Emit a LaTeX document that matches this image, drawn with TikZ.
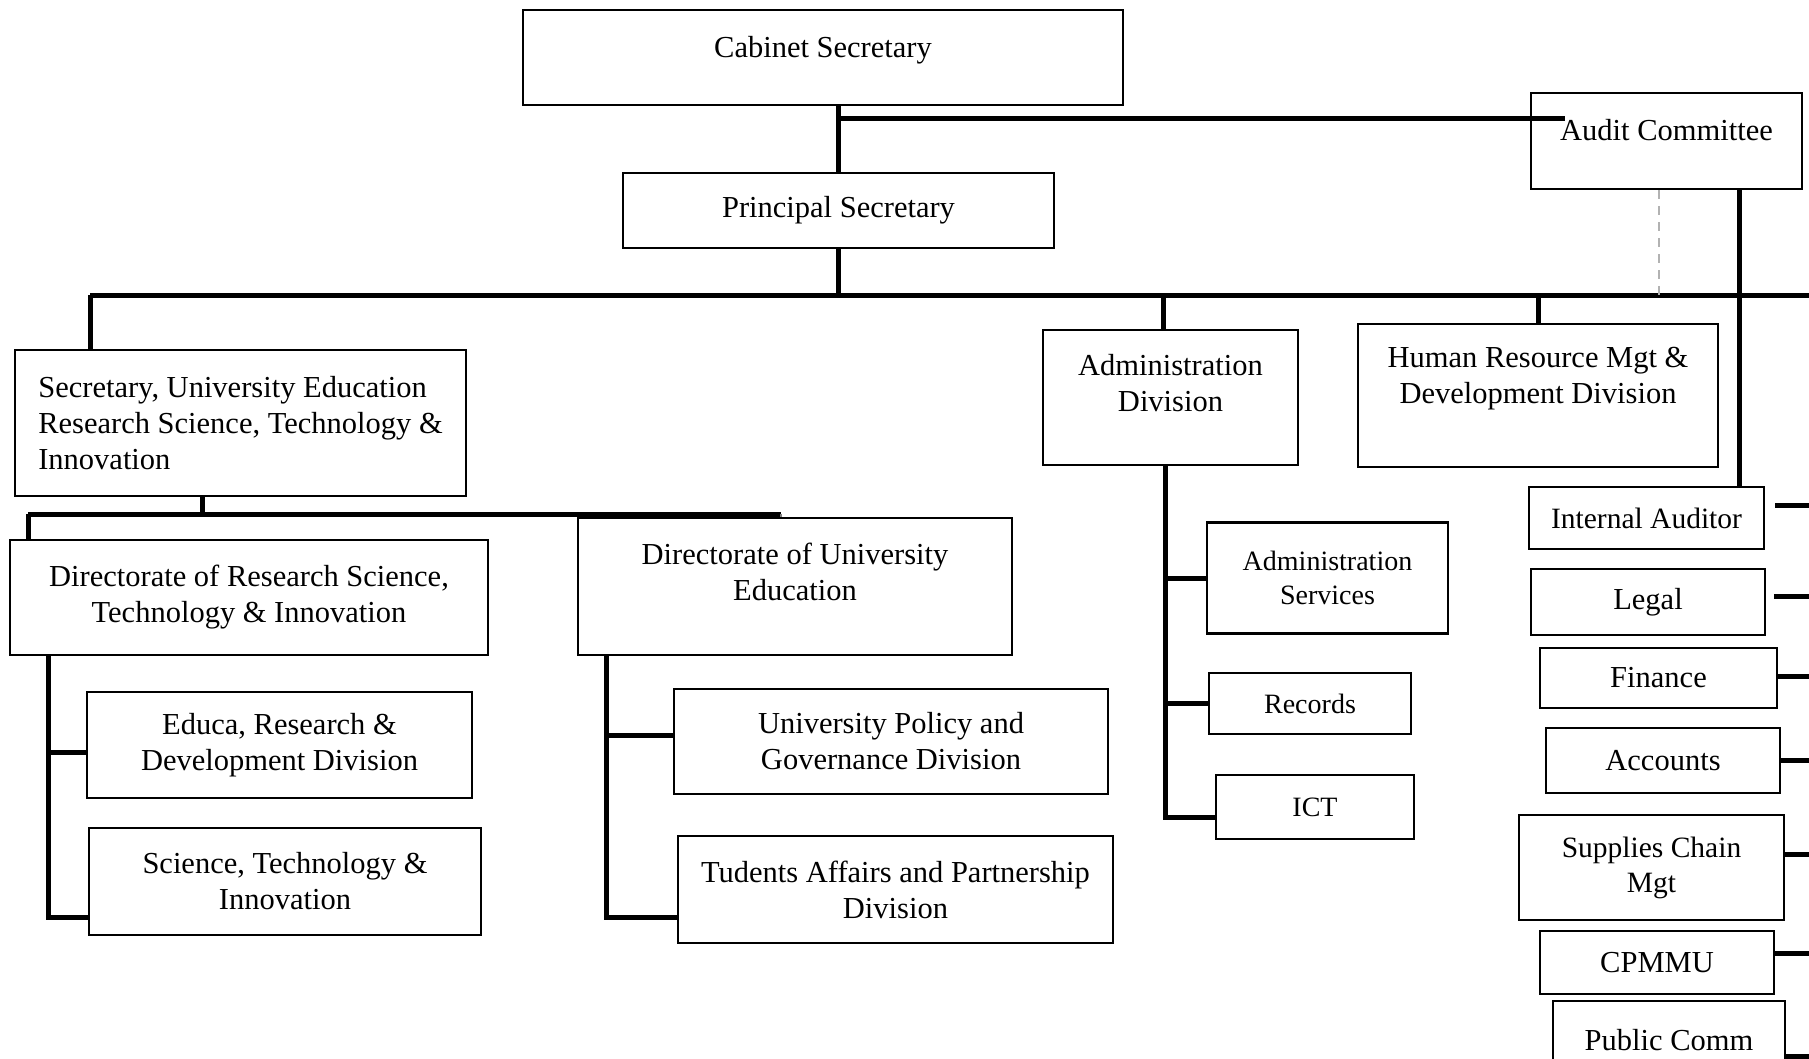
\documentclass[tikz,border=0pt]{standalone}
\usepackage{fontspec}
\setmainfont{Liberation Serif}
\usepackage{tikz}
\usetikzlibrary{shapes,arrows,positioning}
\tikzset{
      orgbox/.style  = {draw, rectangle, line width=2.5pt, inner sep=0pt, align=center, font=\fontsize{30.5}{36}\selectfont},
      smallbox/.style = {orgbox, font=\fontsize{28}{34}\selectfont},
      orgtext/.style = {inner sep=0pt, align=center, font=\fontsize{30.5}{36}\selectfont},
      orgline/.style = {black, line width=5pt},
      dotline/.style = {gray!60, dashed, dash pattern=on 9pt off 7pt, line width=2pt},
    }

\begin{document}
\begin{tikzpicture}[x=1pt,y=-1pt]
        \useasboundingbox (0,0) rectangle (1809,1059);
        \clip (0,0) rectangle (1809,1059);

        % top of the ministry
        \node[orgbox, minimum width=600pt, minimum height=95pt] (cab) at (823,57.5) {};
        \node[orgtext] (cab-t) at ([yshift=7.5pt]cab.center) {Cabinet Secretary};
        \node[orgbox, minimum width=431pt, minimum height=75pt] (ps) at (838.5,210.5) {Principal Secretary};
        \node[orgbox, minimum width=271pt, minimum height=96pt] (audit) at (1666.5,141) {};
        \node[orgtext] (audit-t) at ([yshift=11pt]audit.center) {Audit Committee};

        % second level
        \node[orgbox, align=left, minimum width=451pt, minimum height=146pt] (sec) at (240.5,423)
             {Secretary, University Education\\Research Science, Technology \&\\Innovation};
        \node[orgbox, minimum width=255pt, minimum height=135pt] (adm) at (1170.5,397.5) {};
        \node[orgtext] (adm-t) at ([yshift=14pt]adm.center) {Administration\\Division};
        \node[orgbox, minimum width=360pt, minimum height=143pt] (hr) at (1538,395.5) {};
        \node[orgtext] (hr-t) at ([yshift=16.5pt]hr.center) {Human Resource Mgt \&\\Development Division};

        % directorates
        \node[orgbox, minimum width=478pt, minimum height=115pt] (drst) at (249,597.5)
             {Directorate of Research Science,\\Technology \& Innovation};
        \node[orgbox, minimum width=434pt, minimum height=137pt] (duni) at (795,586.5) {};
        \node[orgtext] (duni-t) at ([yshift=14.5pt]duni.center) {Directorate of University\\Education};
        \node[orgbox, minimum width=385pt, minimum height=106pt] (erd) at (279.5,745) {Educa, Research \&\\Development Division};
        \node[orgbox, minimum width=392pt, minimum height=107pt] (sti) at (285,881.5) {Science, Technology \&\\Innovation};
        \node[orgbox, minimum width=434pt, minimum height=105pt] (upg) at (891,741.5) {University Policy and\\Governance Division};
        \node[orgbox, minimum width=435pt, minimum height=107pt] (tap) at (895.5,889.5) {Tudents Affairs and Partnership\\Division};

        % administration
        \node[smallbox, minimum width=241pt, minimum height=111pt] (asv) at (1327.5,578) {Administration\\Services};
        \node[smallbox, minimum width=202pt, minimum height=61pt] (rec) at (1310,703.5) {Records};
        \node[smallbox, minimum width=198pt, minimum height=64pt] (ict) at (1315,807) {ICT};

        % right column
        \node[smallbox, font=\fontsize{29.5}{35}\selectfont, minimum width=235pt, minimum height=62pt] (ia) at (1646.5,518) {Internal Auditor};
        \node[orgbox, minimum width=234pt, minimum height=66pt] (legal) at (1648,602) {Legal};
        \node[orgbox, minimum width=237pt, minimum height=60pt] (fin) at (1658.5,678) {Finance};
        \node[orgbox, minimum width=234pt, minimum height=65pt] (acc) at (1663,760.5) {Accounts};
        \node[smallbox, font=\fontsize{29.5}{35}\selectfont, minimum width=265pt, minimum height=105pt] (scm) at (1651.5,867.5) {Supplies Chain\\Mgt};
        \node[orgbox, minimum width=234pt, minimum height=63pt] (cpm) at (1657,962.5) {CPMMU};
        \node[orgbox, minimum width=232pt, minimum height=78pt] (pub) at (1669,1040) {Public Comm};

        \coordinate (cabjoint) at (836,119);
        \coordinate (busL) at (90,295);
        \coordinate (busR) at (1809,295);
        \coordinate (secbusL) at (28,514);
        \coordinate (secbusR) at (781,514);
        \coordinate (lspine) at (48,0);
        \coordinate (mspine) at (606,0);
        \coordinate (aspine) at (1165,0);
        \coordinate (rail) at (1809,0);

        \draw[orgline] (ps.north) -- (ps.north |- cab.south);
        \draw[orgline] (ps.north |- cabjoint) -- ([xshift=35pt]audit.west |- cabjoint);
        \draw[orgline] (ps.south) -- (ps.south |- busL);
        \draw[orgline] (busL) -- (busR);
        \draw[orgline] (busL) -- (busL |- sec.north);
        \draw[orgline] ([xshift=-7pt]adm.north) -- ([xshift=-7pt]adm.north |- busL);
        \draw[orgline] (hr.north) -- (hr.north |- busL);
        \draw[dotline] ([xshift=-8pt]audit.south) -- ([xshift=-8pt]audit.south |- busL);
        \draw[orgline] ([xshift=73pt]audit.south) -- ([xshift=73pt]audit.south |- ia.north);

        \draw[orgline] ([xshift=-38pt]sec.south) -- ([xshift=-38pt]sec.south |- secbusL);
        \draw[orgline] (secbusL) -- (secbusR);
        \draw[orgline] (secbusL) -- (secbusL |- drst.north);
        \draw[gray, line width=2.5pt] (secbusR) -- (secbusR |- duni.north);

        \draw[orgline] (drst.south -| lspine) |- ([yshift=-36pt]sti.west);
        \draw[orgline] ([yshift=-7pt]erd.west -| lspine) -- ([yshift=-7pt]erd.west);
        \draw[orgline] (duni.south -| mspine) |- ([yshift=-27.5pt]tap.west);
        \draw[orgline] ([yshift=6.5pt]upg.west -| mspine) -- ([yshift=6.5pt]upg.west);
        \draw[orgline] (adm.south -| aspine) |- ([yshift=-10pt]ict.west);
        \draw[orgline] (asv.west -| aspine) -- (asv.west);
        \draw[orgline] (rec.west -| aspine) -- (rec.west);

        \draw[orgline] ([xshift=10pt,yshift=13pt]ia.east) -- ([yshift=13pt]ia.east -| rail);
        \draw[orgline] ([xshift=8pt,yshift=6pt]legal.east) -- ([yshift=6pt]legal.east -| rail);
        \draw[orgline] ([yshift=2pt]fin.east) -- ([yshift=2pt]fin.east -| rail);
        \draw[orgline] (acc.east) -- (acc.east -| rail);
        \draw[orgline] ([yshift=13pt]scm.east) -- ([yshift=13pt]scm.east -| rail);
        \draw[orgline] ([yshift=9.5pt]cpm.east) -- ([yshift=9.5pt]cpm.east -| rail);
        \draw[orgline] ([yshift=-16pt]pub.east) -- ([yshift=-16pt]pub.east -| rail);
\end{tikzpicture}
\end{document}
